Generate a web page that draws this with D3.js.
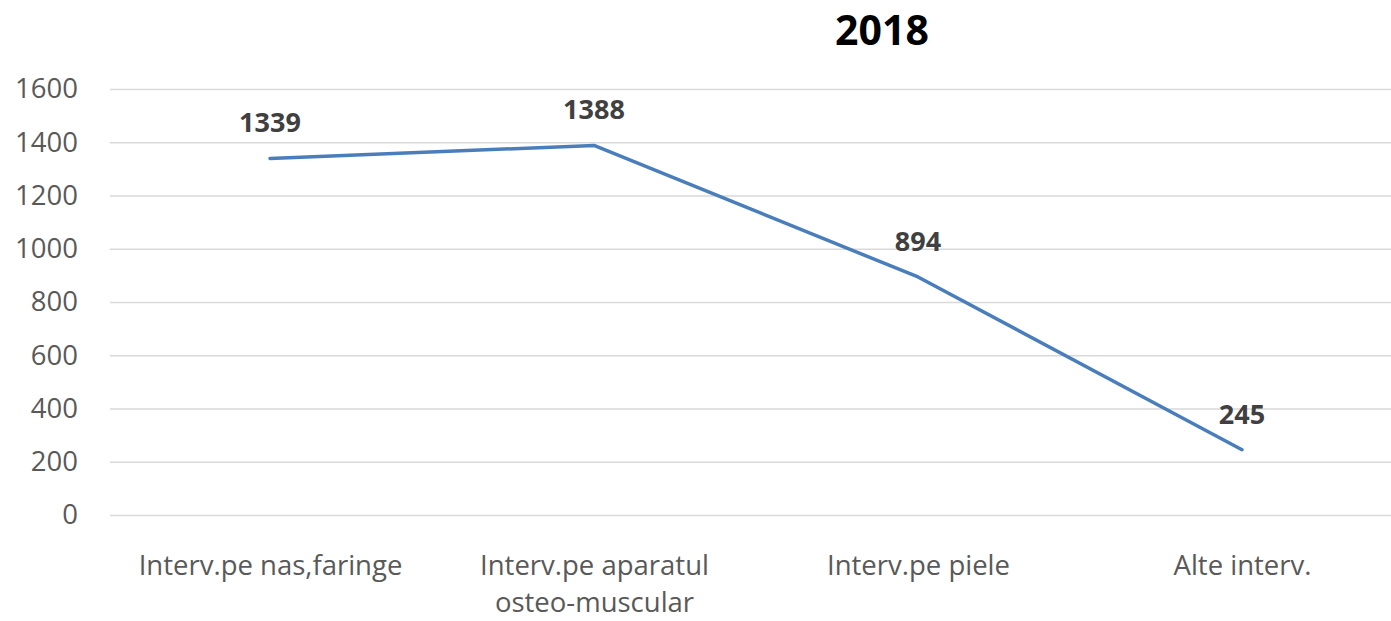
<!DOCTYPE html>
<html>
<head>
<meta charset="utf-8">
<script src="https://cdn.jsdelivr.net/npm/d3@7"></script>
<style>
  body { margin: 0; background: #fff; }
  svg { display: block; font-family: "Open Sans", sans-serif; }
</style>
</head>
<body>
<div id="chart"></div>
<script>
// data
var categories = ["Interv.pe nas,faringe", "Interv.pe aparatul osteo-muscular", "Interv.pe piele", "Alte interv."];
var values = [1339, 1388, 894, 245];
var yTicks = [0, 200, 400, 600, 800, 1000, 1200, 1400, 1600];
var title = "2018";

var W = 1391, H = 621;

var svg = d3.select("#chart")
    .append("svg")
    .attr("width", W)
    .attr("height", H);

var x = d3.scalePoint()
    .domain(categories)
    .range([108, 1404])
    .padding(0.5);

var y = d3.scaleLinear()
    .domain([0, 1600])
    .range([515, 89]);

// y axis + gridlines
var yAxis = svg.append("g")
    .attr("transform", "translate(110,0)")
    .call(d3.axisLeft(y)
        .tickValues(yTicks)
        .tickFormat(d3.format("d"))
        .tickSize(-(W - 110))
        .tickPadding(32));

yAxis.select(".domain").remove();
yAxis.selectAll(".tick line")
    .attr("stroke", "#d9d9d9")
    .attr("stroke-width", 1.5);
yAxis.selectAll(".tick text")
    .attr("fill", "#595959")
    .style("font-size", "27.5px")
    .style("font-family", "'Open Sans', sans-serif");

// x axis labels (wrapped)
var xAxis = svg.append("g")
    .attr("transform", "translate(0,515)")
    .call(d3.axisBottom(x).tickSize(0).tickPadding(0));

xAxis.select(".domain").remove();
xAxis.selectAll(".tick text")
    .attr("fill", "#595959")
    .style("font-size", "27.5px")
    .style("font-family", "'Open Sans', sans-serif")
    .each(function (d) {
        var t = d3.select(this);
        t.text(null).attr("dy", null).attr("y", 0);
        var words = d.split(" ");
        var lines = [], line = [];
        // wrap at ~290px
        words.forEach(function (w) {
            line.push(w);
            var probe = t.append("tspan").text(line.join(" "));
            var len = probe.node().getComputedTextLength();
            probe.remove();
            if (len > 290 && line.length > 1) {
                line.pop();
                lines.push(line.join(" "));
                line = [w];
            }
        });
        lines.push(line.join(" "));
        lines.forEach(function (l, i) {
            t.append("tspan")
                .attr("x", 0)
                .attr("y", 60 + i * 37)
                .text(l);
        });
    });

// line
var line = d3.line()
    .x(function (d, i) { return x(categories[i]); })
    .y(function (d) { return y(d); });

svg.append("path")
    .datum(values)
    .attr("fill", "none")
    .attr("stroke", "#4a7ebb")
    .attr("stroke-width", 3.5)
    .attr("stroke-linecap", "round")
    .attr("stroke-linejoin", "round")
    .attr("d", line);

// data labels
svg.append("g")
    .selectAll("text")
    .data(values)
    .enter()
    .append("text")
    .attr("x", function (d, i) { return x(categories[i]); })
    .attr("y", function (d) { return y(d) - 26; })
    .attr("text-anchor", "middle")
    .attr("fill", "#404040")
    .style("font-size", "27px")
    .style("font-weight", "bold")
    .text(function (d) { return d; });

// title
svg.append("text")
    .attr("x", 882)
    .attr("y", 45)
    .attr("text-anchor", "middle")
    .attr("fill", "#000")
    .style("font-size", "41px")
    .style("font-weight", "bold")
    .text(title);
</script>
</body>
</html>
